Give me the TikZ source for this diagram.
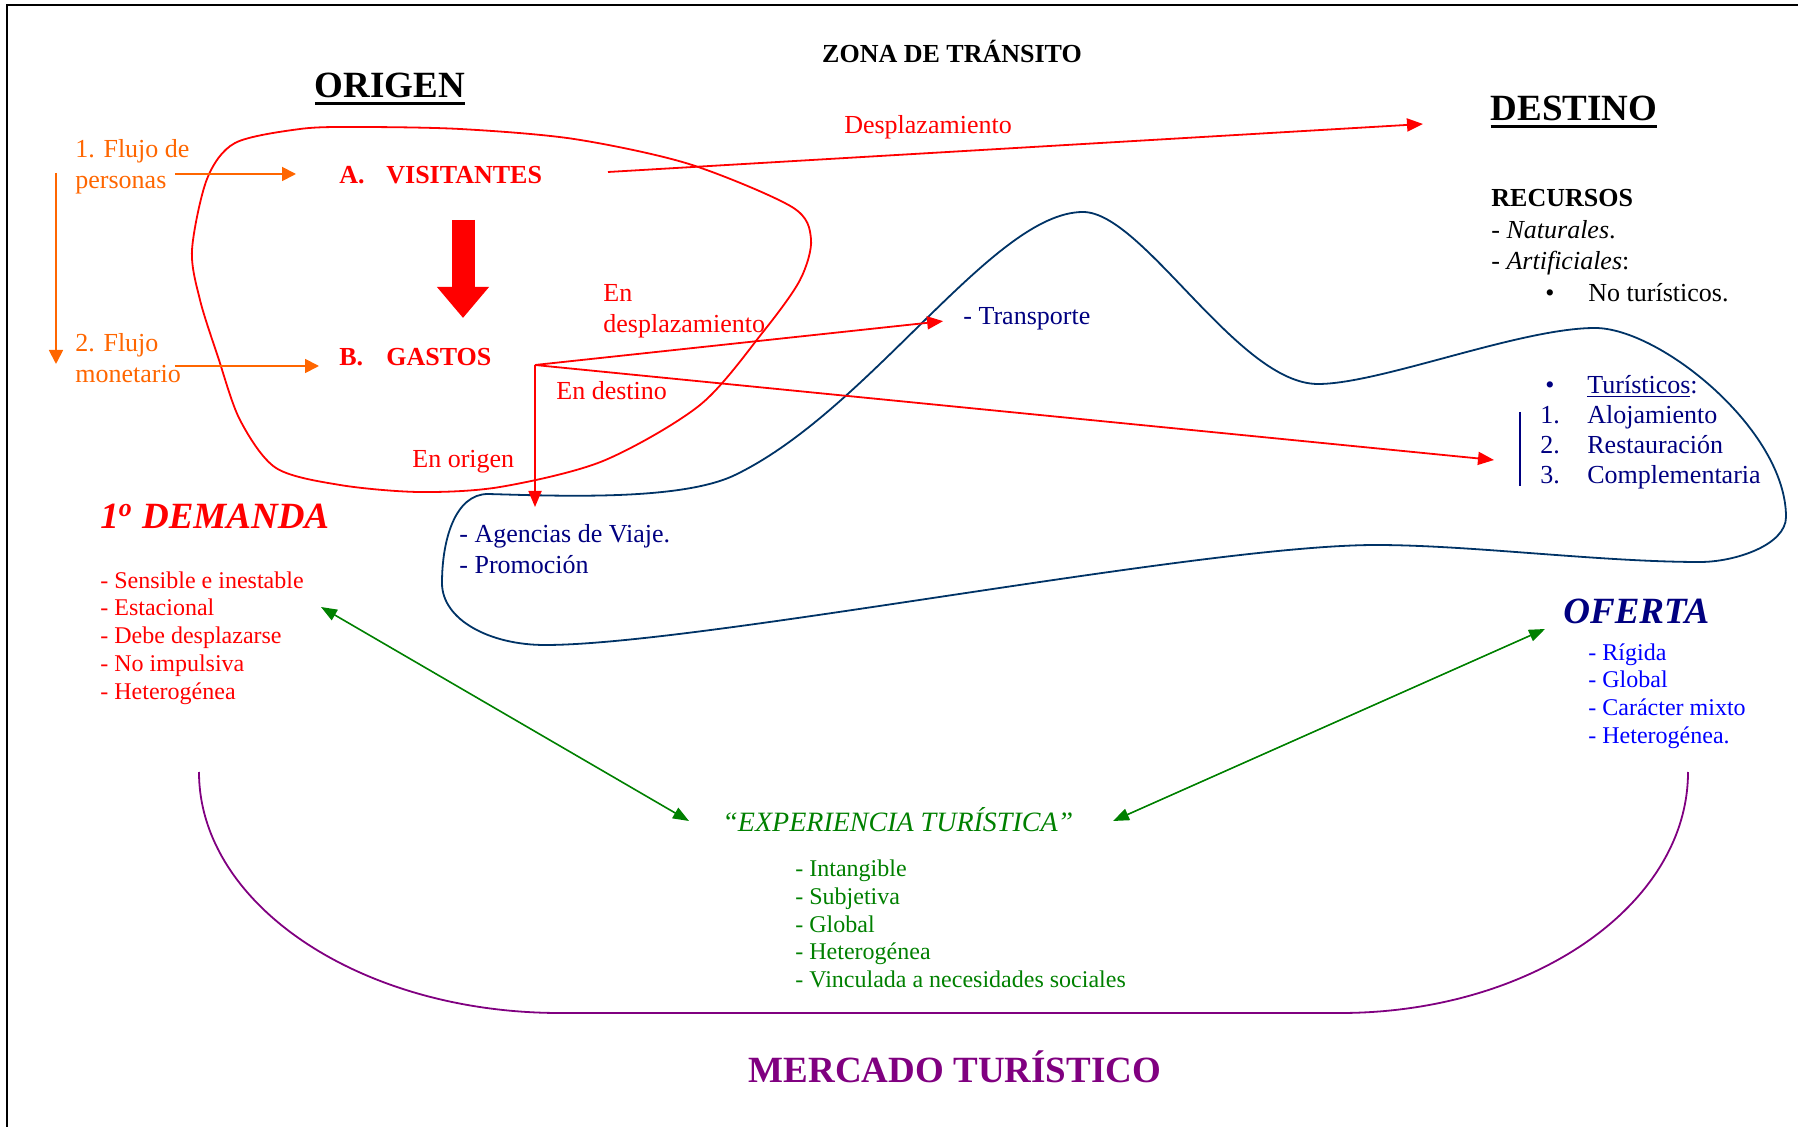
\documentclass[tikz,border=0pt]{standalone}
\usepackage{fontspec}
\setmainfont{Liberation Serif}
\usepackage{tikz}
\usetikzlibrary{arrows.meta,positioning}
\definecolor{mkred}{RGB}{255,0,0}
\definecolor{mkorange}{RGB}{255,102,0}
\definecolor{mknavy}{RGB}{0,0,128}
\definecolor{mkline}{RGB}{0,51,102}
\definecolor{mkblue}{RGB}{0,0,255}
\definecolor{mkgreen}{RGB}{0,128,0}
\definecolor{mkpurple}{RGB}{128,0,128}
\newsavebox{\ulbox}
\newcommand{\thickul}[1]{\sbox{\ulbox}{#1}\rlap{\rule[-3.6pt]{\wd\ulbox}{1.4pt}}\usebox{\ulbox}}

\begin{document}
\begin{tikzpicture}[x=0.5pt, y=-0.5pt,
  plain/.style={inner sep=0pt, anchor=west, align=left, font=\fontsize{13}{15.5}\selectfont},
  listtxt/.style={inner sep=0pt, anchor=west, align=left, font=\fontsize{12}{13.9}\selectfont},
  headtxt/.style={inner sep=0pt, anchor=base, font=\fontsize{18.5}{22}\selectfont\bfseries},
  redarrow/.style={mkred, line width=0.9pt, -{Triangle[length=8pt,width=6.5pt]}},
  orangearrow/.style={mkorange, line width=0.9pt, -{Triangle[length=7pt,width=7pt]}},
  greenarrow/.style={mkgreen, line width=0.8pt, {Triangle[length=8pt,width=6pt]}-{Triangle[length=8pt,width=6pt]}},
  bracket/.style={mkpurple, line width=0.9pt}]
\useasboundingbox (0,0) rectangle (1798,1127);
% Frame (top and left edges)
\draw[line width=1.2pt] (7,1127) -- (7,5) -- (1798,5);

% Headings
\node[headtxt, font=\fontsize{13}{15.5}\selectfont\bfseries] (zona) at (952,63) {ZONA DE TRÁNSITO};
\node[headtxt] (origen) at (390,98) {\thickul{ORIGEN}};
\node[headtxt] (destino) at (1574,121) {\thickul{DESTINO}};

% Origin region (red)
\draw[mkred, line width=0.9pt] plot[smooth cycle] coordinates {(207,179) (235,143) (300,129) (356,127) (460,129) (574,139) (689,164) (792,207) (811,239) (800,280) (763,332) (700,405) (603,461) (500,487) (419,492) (340,485) (276,468) (240,420) (218,357) (200,300) (192,250)};
% Supply region (blue)
\draw[mkline, line width=0.9pt] (488,494) .. controls (560,496) and (681,501) .. (735,475)
  .. controls (870,410) and (993,212) .. (1083,212)
  .. controls (1143,212) and (1238,384) .. (1318,384)
  .. controls (1380,384) and (1520,328) .. (1595,328)
  .. controls (1660,328) and (1786,430) .. (1786,517)
  .. controls (1786,545) and (1735,562) .. (1700,562)
  .. controls (1600,562) and (1470,545) .. (1376,545)
  .. controls (1200,545) and (700,645) .. (545,645)
  .. controls (490,645) and (442,620) .. (442,583)
  .. controls (442,540) and (455,494) .. cycle;

% Flows in the origin
\node[plain, mkorange] (flujo1) at (75,167) {1. Flujo de\\personas};
\node[plain, mkorange] (flujo2) at (75,358) {2. Flujo\\monetario};
\node[plain, mkred, font=\fontsize{13}{15.5}\selectfont\bfseries] (visitantes) at (339,175) {\makebox[23.5pt][l]{A.}VISITANTES};
\node[plain, mkred, font=\fontsize{13}{15.5}\selectfont\bfseries] (gastos) at (339,357) {\makebox[23.5pt][l]{B.}GASTOS};
\coordinate (flujoTop) at (56,173);
\coordinate (flujoBot) at (56,364);
\coordinate (personasOut) at (175,174);
\coordinate (monetarioOut) at (175,366);
\draw[orangearrow] (flujoTop) -- (flujoBot);
\draw[orangearrow, shorten >=21.5pt] (personasOut) -- (personasOut -| visitantes.west);
\draw[orangearrow, shorten >=10pt] (monetarioOut) -- (monetarioOut -| gastos.west);
\coordinate (bigTop) at (463,220);
\coordinate (bigTip) at (463,318);
\draw[mkred, line width=11.5pt, -{Triangle[length=15.5pt,width=25pt]}] (bigTop) -- (bigTip);

% Displacement
\node[plain, mkred, anchor=center] (desplazamiento) at (928,127) {Desplazamiento};
\coordinate (desplStart) at (608,172);
\coordinate (desplEnd) at (1423,124);
\draw[redarrow] (desplStart) -- (desplEnd);

% Spending
\node[plain, mkred] (enDespl) at (603,311) {En\\desplazamiento};
\node[plain, mkred] (enDestino) at (556,391) {En destino};
\node[plain, mkred] (enOrigen) at (412,462) {En origen};
\node[plain, mknavy] (transporte) at (963,319) {- Transporte};
\node[plain, mknavy] (agencias) at (459,549.5) {- Agencias de Viaje.\\- Promoción};
\coordinate (gastosJ) at (535,365);
\coordinate (agenciasIn) at (535,507);
\coordinate (destinoIn) at (1494,460);
\draw[redarrow, shorten >=10pt] (gastosJ) -- (transporte.west);
\draw[redarrow] (gastosJ) -- (agenciasIn);
\draw[redarrow] (gastosJ) -- (destinoIn);

% Destination resources
\node[plain, font=\fontsize{13}{15.8}\selectfont] (recursos) at (1491,245.5) {\textbf{RECURSOS}\\- \textit{Naturales}.\\- \textit{Artificiales}:\\\hspace*{27pt}\makebox[21.5pt][l]{\textbullet}No turísticos.};
\node[plain, mknavy, font=\fontsize{13}{15}\selectfont] (turisticos) at (1540,432) {\hspace*{2.5pt}\makebox[21pt][l]{\textbullet}\underline{Turísticos}:\\\makebox[23.5pt][l]{1.}Alojamiento\\\makebox[23.5pt][l]{2.}Restauración\\\makebox[23.5pt][l]{3.}Complementaria};
\draw[mknavy, line width=0.9pt] (1520,412) -- (1520,486);

% Demand, supply and experience
\node[headtxt, anchor=base west, mkred, font=\fontsize{18.5}{22}\selectfont\bfseries\itshape] (demanda) at (100,529) {1\textsuperscript{o} DEMANDA};
\node[listtxt, mkred] (demandaList) at (100,638) {- Sensible e inestable\\- Estacional\\- Debe desplazarse\\- No impulsiva\\- Heterogénea};
\node[headtxt, anchor=base west, mknavy, font=\fontsize{18.5}{22}\selectfont\bfseries\itshape] (oferta) at (1563,624) {OFERTA};
\node[listtxt, mkblue] (ofertaList) at (1588,696) {- Rígida\\- Global\\- Carácter mixto\\- Heterogénea.};
\node[headtxt, anchor=base west, mkgreen, font=\fontsize{14}{16}\selectfont\itshape] (experiencia) at (722,831) {“EXPERIENCIA TURÍSTICA”};
\node[listtxt, mkgreen] (experienciaList) at (795,924) {- Intangible\\- Subjetiva\\- Global\\- Heterogénea\\- Vinculada a necesidades sociales};
\coordinate (demandaArr) at (321,607);
\coordinate (experienciaL) at (689,821);
\coordinate (experienciaR) at (1113,821);
\coordinate (ofertaArr) at (1545,629);
\draw[greenarrow] (demandaArr) -- (experienciaL);
\draw[greenarrow] (experienciaR) -- (ofertaArr);

% Market bracket
\coordinate (mercadoL) at (199,772);
\coordinate (mercadoR) at (1688,772);
\draw[bracket] (mercadoL) .. controls (199,905) and (361,1013) .. (560,1013) -- (1340,1013) .. controls (1532,1013) and (1688,905) .. (mercadoR);
\node[headtxt, mkpurple] (mercado) at (955,1082) {MERCADO TURÍSTICO};
\end{tikzpicture}
\end{document}
